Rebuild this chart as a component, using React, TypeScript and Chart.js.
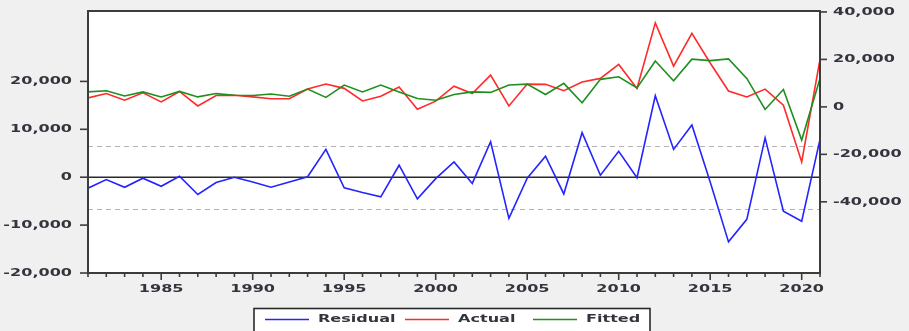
import React, { useEffect, useRef } from "react";
import { Chart, registerables } from "chart.js";

Chart.register(...registerables);

// Observation years
const years: number[] = [
  1981, 1982, 1983, 1984, 1985, 1986, 1987, 1988, 1989, 1990,
  1991, 1992, 1993, 1994, 1995, 1996, 1997, 1998, 1999, 2000,
  2001, 2002, 2003, 2004, 2005, 2006, 2007, 2008, 2009, 2010,
  2011, 2012, 2013, 2014, 2015, 2016, 2017, 2018, 2019, 2020, 2021,
];

// Residual series (left axis)
const residual: number[] = [
  -2300, -500, -2100, -200, -1900, 200, -3600, -1100, 0, -1000,
  -2100, -1000, 100, 5800, -2200, -3200, -4100, 2500, -4500, -300,
  3200, -1300, 7400, -8600, -200, 4400, -3500, 9300, 400, 5400,
  -100, 17000, 5800, 10900, -1000, -13500, -8800, 8200, -7100, -9200, 7900,
];

// Actual series (right axis)
const actual: number[] = [
  3800, 5600, 2800, 5900, 2100, 6500, 400, 4800, 4900, 4200,
  3400, 3400, 7500, 9600, 7800, 2500, 4500, 8400, -1000, 2400,
  8700, 5600, 13400, 400, 9600, 9500, 6800, 10500, 12000, 17900,
  7800, 35400, 17200, 31000, 18500, 6700, 4200, 7500, 700, -23200, 20000,
];

// Fitted series (right axis)
const fitted: number[] = [
  6300, 6800, 4600, 6300, 4200, 6500, 4200, 5600, 4900, 4800,
  5400, 4500, 7500, 4000, 9200, 6300, 9200, 6300, 3500, 2800,
  5200, 6300, 6100, 9200, 9600, 5200, 9900, 1700, 11600, 12700,
  8000, 19300, 11000, 20100, 19500, 20200, 12000, -1100, 7300, -14000, 12000,
];

// Axis tick values
const leftTicks: number[] = [-20000, -10000, 0, 10000, 20000];
const rightTicks: number[] = [-40000, -20000, 0, 20000, 40000];
const yearLabels: number[] = [1985, 1990, 1995, 2000, 2005, 2010, 2015, 2020];

// Standard error band around the zero residual line
const stdError = 6600;

const legendItems = [
  { label: "Residual", color: "#2424ff" },
  { label: "Actual", color: "#ff2a2a" },
  { label: "Fitted", color: "#1f8f1f" },
];

const W = 909;
const H = 331;
const FONT = "bold 11px 'DejaVu Sans'";
const TEXT = "#34343e";
const STRETCH = 1.46;

function wideText(
  ctx: CanvasRenderingContext2D,
  text: string,
  x: number,
  y: number,
  align: CanvasTextAlign
) {
  ctx.save();
  ctx.translate(x, y);
  ctx.scale(STRETCH, 1);
  ctx.font = FONT;
  ctx.fillStyle = TEXT;
  ctx.textAlign = align;
  ctx.textBaseline = "middle";
  ctx.fillText(text, 0, 0);
  ctx.restore();
}

const fmt = (v: number) => v.toLocaleString("en-US");

const framePlugin = {
  id: "eviewsFrame",
  beforeDraw(chart: any) {
    const { ctx } = chart;
    ctx.save();
    ctx.fillStyle = "#f0f0f0";
    ctx.fillRect(0, 0, W, H);
    ctx.restore();
  },
  beforeDatasetsDraw(chart: any) {
    const { ctx, chartArea: a, scales } = chart;
    const yL = scales.y;
    ctx.save();
    ctx.fillStyle = "#ffffff";
    ctx.fillRect(a.left, a.top, a.right - a.left, a.bottom - a.top);
    // dashed standard-error lines
    ctx.strokeStyle = "#b4b4b4";
    ctx.lineWidth = 1;
    ctx.setLineDash([5, 4]);
    [stdError, -stdError].forEach((v) => {
      const py = Math.round(yL.getPixelForValue(v)) + 0.5;
      ctx.beginPath();
      ctx.moveTo(a.left, py);
      ctx.lineTo(a.right, py);
      ctx.stroke();
    });
    ctx.setLineDash([]);
    // zero residual line
    const z = yL.getPixelForValue(0);
    ctx.strokeStyle = "#2a2a2a";
    ctx.lineWidth = 1.6;
    ctx.beginPath();
    ctx.moveTo(a.left, z);
    ctx.lineTo(a.right, z);
    ctx.stroke();
    ctx.restore();
  },
  afterDatasetsDraw(chart: any) {
    const { ctx, chartArea: a, scales } = chart;
    const x = scales.x;
    const yL = scales.y;
    const yR = scales.y1;
    ctx.save();
    // frame
    ctx.strokeStyle = "#3c3c3c";
    ctx.lineWidth = 2;
    ctx.strokeRect(a.left, a.top, a.right - a.left, a.bottom - a.top);

    // x ticks: minor every year, major every five
    ctx.lineWidth = 1.6;
    years.forEach((yr) => {
      const px = x.getPixelForValue(yr);
      const len = yr % 5 === 0 ? 7 : 4;
      ctx.beginPath();
      ctx.moveTo(px, a.bottom);
      ctx.lineTo(px, a.bottom + len);
      ctx.stroke();
    });
    yearLabels.forEach((yr) => {
      wideText(ctx, String(yr), x.getPixelForValue(yr), 289.5, "center");
    });

    // left axis
    leftTicks.forEach((v) => {
      const py = yL.getPixelForValue(v);
      ctx.beginPath();
      ctx.moveTo(a.left - 8, py);
      ctx.lineTo(a.left, py);
      ctx.stroke();
      wideText(ctx, fmt(v), 72, py, "right");
    });

    // right axis
    rightTicks.forEach((v) => {
      const py = yR.getPixelForValue(v);
      ctx.beginPath();
      ctx.moveTo(a.right, py);
      ctx.lineTo(a.right + 7, py);
      ctx.stroke();
      wideText(ctx, fmt(v), 833, py, "left");
    });

    // legend box
    ctx.fillStyle = "#ffffff";
    ctx.fillRect(254, 308.5, 396, 30);
    ctx.strokeStyle = "#2a2a2a";
    ctx.lineWidth = 1.6;
    ctx.strokeRect(254, 308.5, 396, 30);
    const itemX = [265, 405, 533];
    legendItems.forEach((it, i) => {
      ctx.strokeStyle = it.color;
      ctx.lineWidth = 1.5;
      ctx.beginPath();
      ctx.moveTo(itemX[i], 319.5);
      ctx.lineTo(itemX[i] + 44, 319.5);
      ctx.stroke();
      wideText(ctx, it.label, itemX[i] + 53, 319.5, "left");
    });
    ctx.restore();
  },
};

export default function App() {
  const ref = useRef<HTMLCanvasElement | null>(null);

  useEffect(() => {
    if (!ref.current) return;
    const pts = (vals: number[]) => years.map((yr, i) => ({ x: yr, y: vals[i] }));
    const chart = new Chart(ref.current, {
      type: "line",
      data: {
        datasets: [
          {
            label: "Fitted",
            data: pts(fitted),
            borderColor: legendItems[2].color,
            yAxisID: "y1",
            order: 0,
          },
          {
            label: "Actual",
            data: pts(actual),
            borderColor: legendItems[1].color,
            yAxisID: "y1",
            order: 1,
          },
          {
            label: "Residual",
            data: pts(residual),
            borderColor: legendItems[0].color,
            yAxisID: "y",
            order: 2,
          },
        ],
      },
      options: {
        responsive: false,
        animation: false,
        events: [],
        layout: { padding: { top: 11, left: 0, right: 0, bottom: 0 } },
        elements: {
          point: { radius: 0 },
          line: { borderWidth: 1.6, tension: 0 },
        },
        plugins: { legend: { display: false }, tooltip: { enabled: false } },
        scales: {
          x: {
            type: "linear",
            min: 1981,
            max: 2021,
            ticks: { display: false },
            grid: { display: false },
            border: { display: false },
            afterFit: (s: any) => {
              s.height = 58;
            },
          },
          y: {
            position: "left",
            min: -20000,
            max: 34700,
            ticks: { display: false },
            grid: { display: false },
            border: { display: false },
            afterFit: (s: any) => {
              s.width = 88;
            },
          },
          y1: {
            position: "right",
            min: -70000,
            max: 40400,
            ticks: { display: false },
            grid: { display: false },
            border: { display: false },
            afterFit: (s: any) => {
              s.width = 89;
            },
          },
        },
      } as any,
      plugins: [framePlugin],
    });
    return () => chart.destroy();
  }, []);

  return (
    <div style={{ position: "absolute", left: 0, top: 0, width: W, height: H }}>
      <canvas ref={ref} width={W} height={H} style={{ display: "block" }} />
    </div>
  );
}
